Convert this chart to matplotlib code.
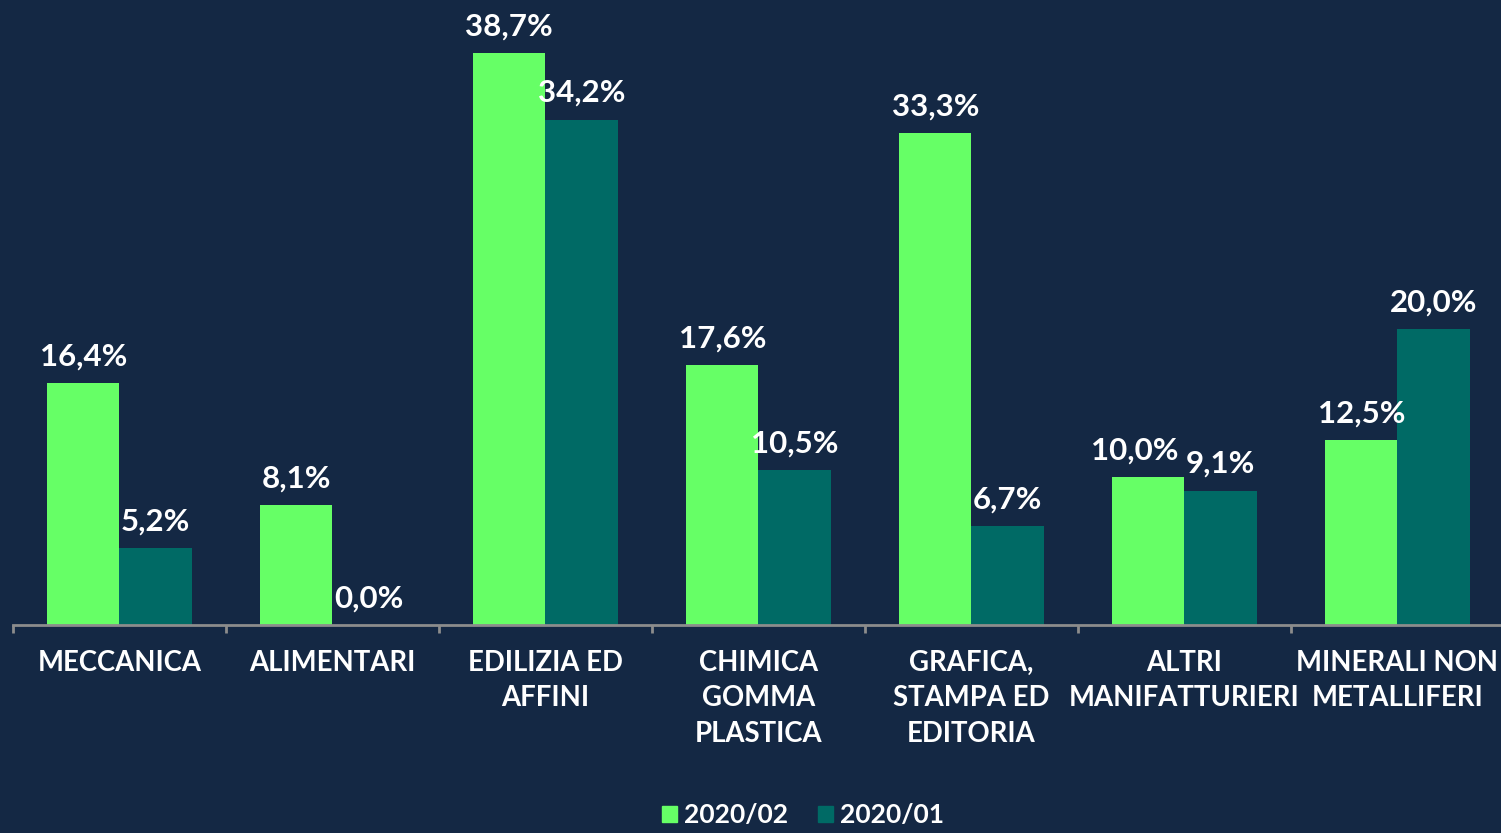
import matplotlib
matplotlib.use("Agg")
import matplotlib.pyplot as plt
import numpy as np
from matplotlib.patches import Patch

categories = ["MECCANICA", "ALIMENTARI", "EDILIZIA ED\nAFFINI", "CHIMICA\nGOMMA\nPLASTICA",
              "GRAFICA,\nSTAMPA ED\nEDITORIA", "ALTRI\nMANIFATTURIERI", "MINERALI NON\nMETALLIFERI"]
series_names = ["2020/02", "2020/01"]
values_2020_02 = [16.4, 8.1, 38.7, 17.6, 33.3, 10.0, 12.5]
values_2020_01 = [5.2, 0.0, 34.2, 10.5, 6.7, 9.1, 20.0]

BG = "#142844"
GREEN = "#66FF66"
TEAL = "#006A65"
FONT = ["Lato", "DejaVu Sans"]

fig = plt.figure(figsize=(15.01, 8.33), dpi=100, facecolor=BG)
W, H = 1501, 833
ax = fig.add_axes([13 / W, (H - 625) / H, 1491 / W, 625 / H])
ax.set_facecolor(BG)

x = np.arange(len(categories))
bw = 0.34
b1 = ax.bar(x - bw / 2, values_2020_02, bw, color=GREEN, label=series_names[0])
b2 = ax.bar(x + bw / 2, values_2020_01, bw, color=TEAL, label=series_names[1])

def fmt(v):
    return f"{v:.1f}%".replace(".", ",")

for si, (bars, vals) in enumerate(((b1, values_2020_02), (b2, values_2020_01))):
    for i, (rect, v) in enumerate(zip(bars, vals)):
        dx = -10 if (si == 0 and i == 5) else 0  # nudge to avoid overlap, as in original
        ax.annotate(fmt(v), (rect.get_x() + rect.get_width() / 2, v),
                    xytext=(dx, 9), textcoords="offset points",
                    ha="center", va="bottom", color="white",
                    fontsize=22.5, fontweight="bold", family=FONT)

ax.set_xlim(-0.5, len(categories) - 0.5)
ax.set_ylim(0, 625 / 14.78)

for s in ("top", "right", "left"):
    ax.spines[s].set_visible(False)
ax.spines["bottom"].set_color("#8C8C8C")
ax.spines["bottom"].set_linewidth(2)
ax.set_yticks([])

ax.set_xticks(x)
ax.set_xticklabels(categories, color="white", fontsize=19.8, fontweight="bold",
                   family=FONT, linespacing=1.45)
ax.tick_params(axis="x", which="major", length=0, pad=18)
ax.set_xticks(np.arange(-0.5, len(categories) + 0.5, 1), minor=True)
ax.tick_params(axis="x", which="minor", length=6, width=2, color="#8C8C8C")

handles = [Patch(color=GREEN), Patch(color=TEAL)]
leg = fig.legend(handles, series_names, loc="center", bbox_to_anchor=(803 / W, 1 - 815 / H),
                 ncol=2, frameon=False, handlelength=0.57, handleheight=0.57,
                 handletextpad=0.27, columnspacing=1.1,
                 prop={"family": FONT, "weight": "bold", "size": 19})
for t in leg.get_texts():
    t.set_color("white")

fig.savefig("out.png", dpi=100, facecolor=BG)
